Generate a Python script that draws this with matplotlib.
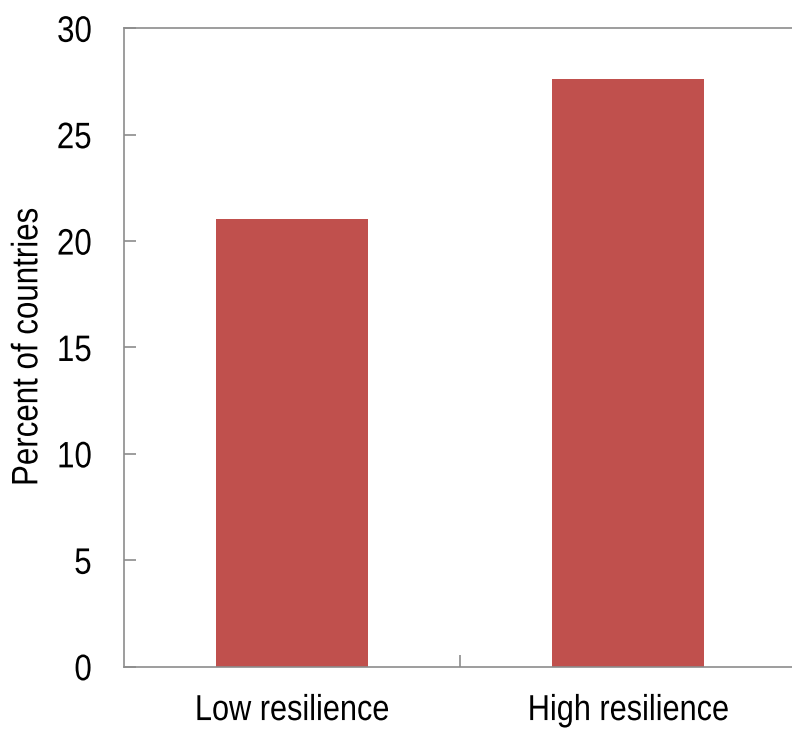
import matplotlib
matplotlib.use("Agg")
from matplotlib import pyplot as plt
from matplotlib import font_manager
from matplotlib.patheffects import AbstractPathEffect
from matplotlib.transforms import Affine2D

# data
categories = ["Low resilience", "High resilience"]
values = [21.05, 27.6]
yticks = [0, 5, 10, 15, 20, 25, 30]

names = {f.name for f in font_manager.fontManager.ttflist}
narrow = "Liberation Sans Narrow" in names
fam = "Liberation Sans Narrow" if narrow else "Liberation Sans"
plt.rcParams['font.family'] = [fam, 'DejaVu Sans']


# squeeze glyphs sideways to look like Arial Narrow
class Condense(AbstractPathEffect):
    def __init__(self, sx, align):
        super().__init__()
        self.sx = sx
        self.align = align

    def draw_path(self, renderer, gc, tpath, affine, rgbFace=None):
        ext = tpath.get_extents()
        if self.align == "center":
            cx = (ext.x0 + ext.x1) / 2
        elif self.align == "right":
            cx = ext.x1
        else:
            cx = ext.x0
        t = Affine2D().translate(-cx, 0).scale(self.sx, 1).translate(cx, 0) + affine
        renderer.draw_path(gc, tpath, t, rgbFace)


sx = 1.0 if narrow else 0.85

fig = plt.figure(figsize=(7.92, 7.31), dpi=100)
ax = fig.add_axes([0.1562, 0.088, 0.8488, 0.8733])

x = list(range(len(categories)))
ax.bar(x, values, width=0.452, color="#C0504D", edgecolor="none")

ax.set_xlim(-0.5, 1.5)
ax.set_ylim(0, 30)
ax.set_yticks(yticks)
ax.set_xticks(x)
ax.set_xticklabels(categories)
ax.set_xticks([0.5], minor=True)

gray = "#8c8c8c"
for s in ax.spines.values():
    s.set_color(gray)
    s.set_linewidth(1.2)

ax.tick_params(axis="y", direction="in", length=8.6, width=1.2, color=gray,
               labelsize=26.5, pad=23)
ax.tick_params(axis="x", which="major", length=0, labelsize=26, pad=19)
ax.tick_params(axis="x", which="minor", direction="in", length=8.6, width=1.2, color=gray)

ax.set_ylabel("Percent of countries", fontsize=26.5, labelpad=4)

for lab in ax.get_yticklabels():
    lab.set_path_effects([Condense(sx, "right")])
for lab in ax.get_xticklabels():
    lab.set_path_effects([Condense(sx, "center")])
ax.yaxis.label.set_path_effects([Condense(sx, "center")])

fig.savefig("out.png", dpi=100)
